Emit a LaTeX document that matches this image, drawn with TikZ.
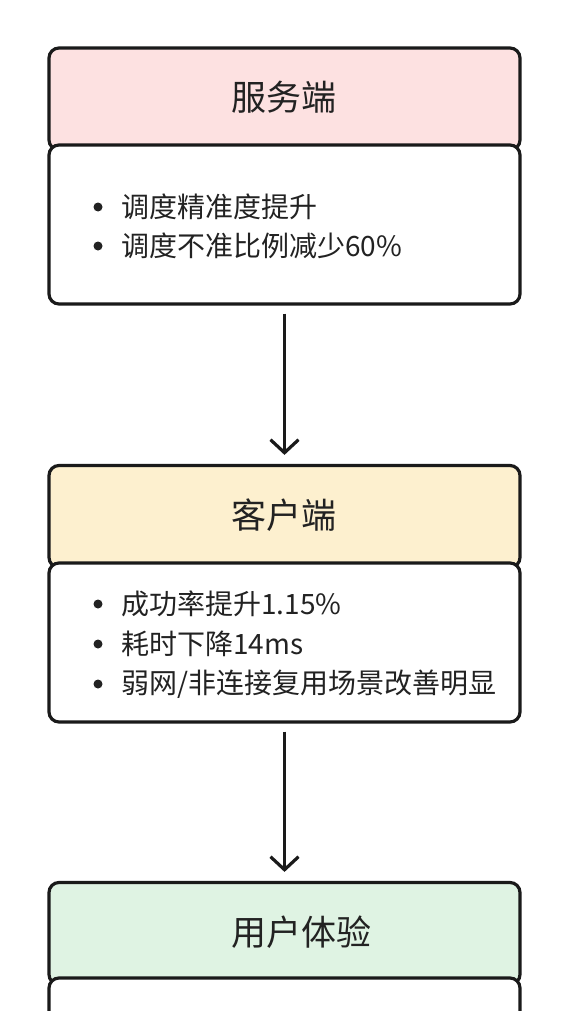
\documentclass[tikz,border=0pt]{standalone}
\usepackage{fontspec}
\setmainfont{Noto Sans CJK SC}
\usetikzlibrary{arrows.meta}
\definecolor{ink}{HTML}{1A1A1A}
\definecolor{txt}{HTML}{222222}
\definecolor{pinkhd}{HTML}{FDE1E1}
\definecolor{yellowhd}{HTML}{FDF0CF}
\definecolor{greenhd}{HTML}{DFF3E3}
\tikzset{
  hdr/.style={draw=ink, line width=3.2pt, rounded corners=10pt, minimum width=471pt, inner sep=0pt},
  title/.style={anchor=west, inner sep=0pt, text=txt, font=\fontsize{35}{40}\selectfont},
  bodybox/.style={draw=ink, line width=3.2pt, rounded corners=10pt, fill=white, minimum width=471pt, inner sep=0pt},
  item/.style={anchor=west, inner sep=0pt, text=txt, font=\fontsize{28}{32}\selectfont},
  dot/.style={circle, fill=txt, inner sep=0pt, minimum size=9pt},
  flow/.style={draw=ink, line width=3.2pt, -{Straight Barb[length=13pt, width=28pt, line width=3.2pt]}}
}
\begin{document}
\begin{tikzpicture}[x=1pt, y=-1pt]
\useasboundingbox (0,0) rectangle (570,1011);
\clip (0,0) rectangle (570,1011);
\fill[white] (0,0) rectangle (570,1011);
% box 1
\node[hdr, fill=pinkhd, minimum height=102pt] (h1) at (284.5,99) {};
\node[title] (ti1) at (231,97) {服务端};
\node[bodybox, minimum height=159pt] (b1) at (284.5,224.5) {};
\node[dot] (d11) at (98,207) {};
\node[item] (t11) at (121,207) {调度精准度提升};
\node[dot] (d12) at (98,246) {};
\node[item] (t12) at (121,246) {调度不准比例减少60\%};
% box 2
\node[hdr, fill=yellowhd, minimum height=102pt] (h2) at (284.5,516.5) {};
\node[title] (ti2) at (231,515) {客户端};
\node[bodybox, minimum height=159pt] (b2) at (284.5,642.5) {};
\node[dot] (d21) at (98,604) {};
\node[item] (t21) at (121,604) {成功率提升1.15\%};
\node[dot] (d22) at (98,644) {};
\node[item] (t22) at (121,644) {耗时下降14ms};
\node[dot] (d23) at (98,684) {};
\node[item] (t23) at (121,684) {弱网/非连接复用场景改善明显};
% box 3
\node[hdr, fill=greenhd, minimum height=102pt] (h3) at (284.5,933.5) {};
\node[title] (ti3) at (231,932) {用户体验};
\node[bodybox, minimum height=120pt] (b3) at (284.5,1038) {};
% arrows
\draw[flow, shorten <=8pt, shorten >=9pt] (b1.south) -- (h2.north);
\draw[flow, shorten <=8pt, shorten >=9pt] (b2.south) -- (h3.north);
\end{tikzpicture}
\end{document}
